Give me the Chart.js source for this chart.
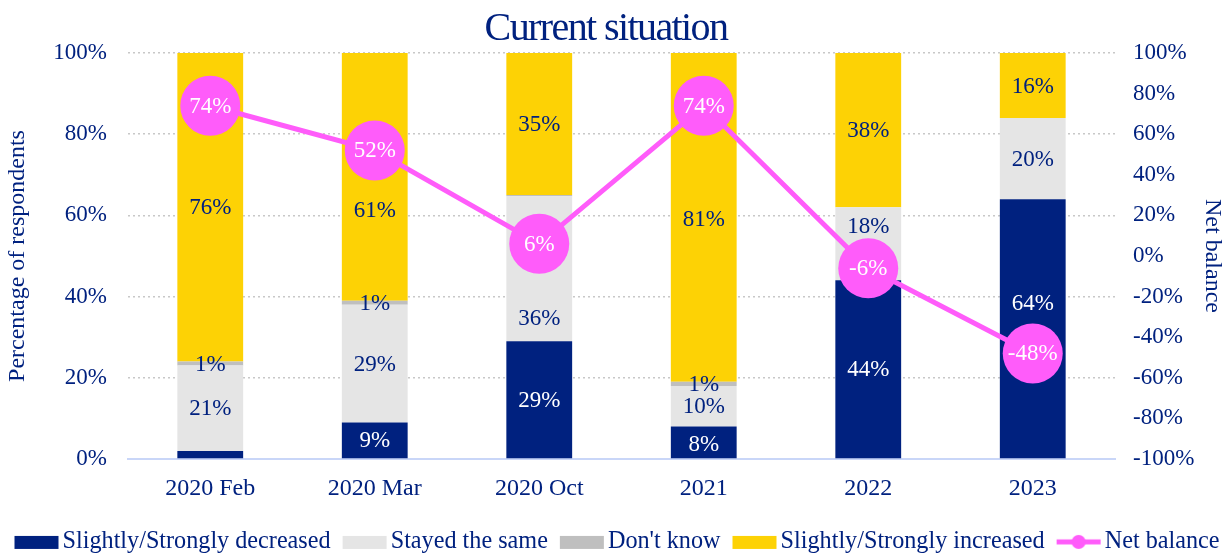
<!DOCTYPE html>
<html>
<head>
<meta charset="utf-8">
<script src="https://cdn.jsdelivr.net/npm/chart.js@4.4.1/dist/chart.umd.min.js"></script>
<style>
  html, body { margin: 0; padding: 0; background: #fff; }
  #wrap { width: 1230px; height: 553px; }
</style>
</head>
<body>
<div id="wrap"><canvas id="chart"></canvas></div>
<script>
// chart data
const categories = ['2020 Feb', '2020 Mar', '2020 Oct', '2021', '2022', '2023'];
const decreased = [2, 9, 29, 8, 44, 64];
const stayedSame = [21, 29, 35.7, 10, 18, 20];
const dontKnow = [1, 1, 0.3, 1, 0, 0];
const increased = [76, 61, 35, 81, 38, 16];
const netBalance = [74, 52, 6, 74, -6, -48];

const NAVY = '#00217f';
const PINK = '#ff5cfa';
const FONT = 'Liberation Serif';
const TITLE = 'Current situation';

// small canvases used as legend markers (drawn a bit right of centre)
function legendBox(color, isLine) {
  const c = document.createElement('canvas');
  c.width = 60; c.height = 16;
  const g = c.getContext('2d');
  if (isLine) {
    g.strokeStyle = color; g.lineWidth = 5;
    g.beginPath(); g.moveTo(14, 8); g.lineTo(58, 8); g.stroke();
    g.fillStyle = color;
    g.beginPath(); g.arc(36, 8, 7, 0, Math.PI * 2); g.fill();
  } else {
    g.fillStyle = color;
    g.fillRect(14, 2, 44, 13);
  }
  return c;
}

// bar labels go on after every bar is drawn but before the line,
// point labels go on top of the line
const valueLabels = {
  id: 'valueLabels',
  beforeDatasetDraw(chart, args) {
    const ds = chart.data.datasets[args.index];
    if (ds.type !== 'line') return;
    const ctx = chart.ctx;
    ctx.save();
    ctx.textAlign = 'center';
    ctx.textBaseline = 'middle';
    ctx.font = '23px "' + FONT + '"';
    chart.data.datasets.forEach((bs, di) => {
      if (bs.type === 'line') return;
      chart.getDatasetMeta(di).data.forEach((el, i) => {
        const v = bs.data[i];
        if (v < (bs.labelMin || 0.5)) return;
        const shift = bs.labelShift ? bs.labelShift[i] : 0;
        ctx.fillStyle = bs.labelColor;
        ctx.fillText(Math.round(v) + '%', el.x, (el.y + el.base) / 2 + shift + 1);
      });
    });
    ctx.restore();
  },
  afterDatasetDraw(chart, args) {
    const ds = chart.data.datasets[args.index];
    if (ds.type !== 'line') return;
    const ctx = chart.ctx;
    ctx.save();
    ctx.textAlign = 'center';
    ctx.textBaseline = 'middle';
    ctx.font = '23px "' + FONT + '"';
    ctx.fillStyle = '#ffffff';
    args.meta.data.forEach((el, i) => {
      ctx.fillText(ds.data[i] + '%', el.x, el.y + 1);
    });
    ctx.restore();
  }
};

// title drawn by hand so it can be set a little tighter
const tightTitle = {
  id: 'tightTitle',
  afterDraw(chart) {
    const ctx = chart.ctx;
    ctx.save();
    ctx.letterSpacing = '-1.6px';
    ctx.font = '40px "' + FONT + '"';
    ctx.fillStyle = NAVY;
    ctx.textAlign = 'center';
    ctx.textBaseline = 'alphabetic';
    ctx.fillText(TITLE, 606, 40);
    ctx.restore();
  }
};

const barOpts = { type: 'bar', yAxisID: 'y', stack: 's', barPercentage: 0.8, categoryPercentage: 0.5, borderWidth: 0 };

const ctx = document.getElementById('chart');
new Chart(ctx, {
  data: {
    labels: categories,
    datasets: [
      Object.assign({ label: 'Slightly/Strongly decreased', data: decreased, backgroundColor: NAVY, labelColor: '#ffffff', labelMin: 3,
        labelShift: [0, 0, 0, 2, 0, -26] }, barOpts),
      Object.assign({ label: 'Stayed the same', data: stayedSame, backgroundColor: '#e5e5e5', labelColor: NAVY,
        labelShift: [0, 0, 49, 0, -18, 0] }, barOpts),
      Object.assign({ label: "Don't know", data: dontKnow, backgroundColor: '#bfbfbf', labelColor: NAVY }, barOpts),
      Object.assign({ label: 'Slightly/Strongly increased', data: increased, backgroundColor: '#fdd205', labelColor: NAVY,
        labelShift: [0, 33, 0, 2, 0, 0] }, barOpts),
      {
        type: 'line', label: 'Net balance', data: netBalance, yAxisID: 'y1', order: -1,
        borderColor: PINK, backgroundColor: PINK, borderWidth: 5,
        pointRadius: 30, pointHoverRadius: 30, pointBorderWidth: 0, tension: 0
      }
    ]
  },
  options: {
    responsive: true,
    maintainAspectRatio: false,
    animation: false,
    layout: { padding: { top: 0, left: 0, right: 0, bottom: -11 } },
    plugins: {
      title: {
        display: true,
        text: TITLE,
        color: 'rgba(0,0,0,0)',
        font: { family: FONT, size: 40 },
        padding: { top: 0, bottom: 5 }
      },
      legend: {
        position: 'bottom',
        labels: {
          color: NAVY,
          font: { family: FONT, size: 24.2 },
          usePointStyle: true,
          pointStyleWidth: 40,
          boxHeight: 13,
          padding: 8,
          generateLabels(chart) {
            return chart.data.datasets.map((ds, i) => ({
              text: ds.label,
              fontColor: NAVY,
              pointStyle: legendBox(ds.type === 'line' ? PINK : ds.backgroundColor, ds.type === 'line'),
              datasetIndex: i,
              lineWidth: 0
            }));
          }
        }
      },
      tooltip: { enabled: false }
    },
    scales: {
      x: {
        grid: { display: false },
        border: { color: '#c9d6f8', width: 2 },
        ticks: { color: NAVY, font: { family: FONT, size: 24 }, padding: 7 },
        afterFit: s => { s.height += 12; }
      },
      y: {
        position: 'left',
        min: 0, max: 100,
        border: { display: false, dash: [2, 3] },
        grid: { color: '#c8c8c8', lineWidth: 1.5, drawTicks: false },
        ticks: { stepSize: 20, color: NAVY, font: { family: FONT, size: 23 }, padding: 21, callback: v => v + '%' },
        title: { display: true, text: 'Percentage of respondents', color: NAVY, font: { family: FONT, size: 24 }, padding: 3 },
        afterFit: s => { s.width = 128; }
      },
      y1: {
        position: 'right',
        min: -100, max: 100,
        border: { display: false },
        grid: { display: false, drawTicks: false },
        ticks: { stepSize: 20, color: NAVY, font: { family: FONT, size: 23 }, padding: 18, callback: v => v + '%' },
        title: { display: true, text: 'Net balance', color: NAVY, font: { family: FONT, size: 24 }, padding: 3 },
        afterFit: s => { s.width = 115; }
      }
    }
  },
  plugins: [valueLabels, tightTitle]
});
</script>
</body>
</html>
